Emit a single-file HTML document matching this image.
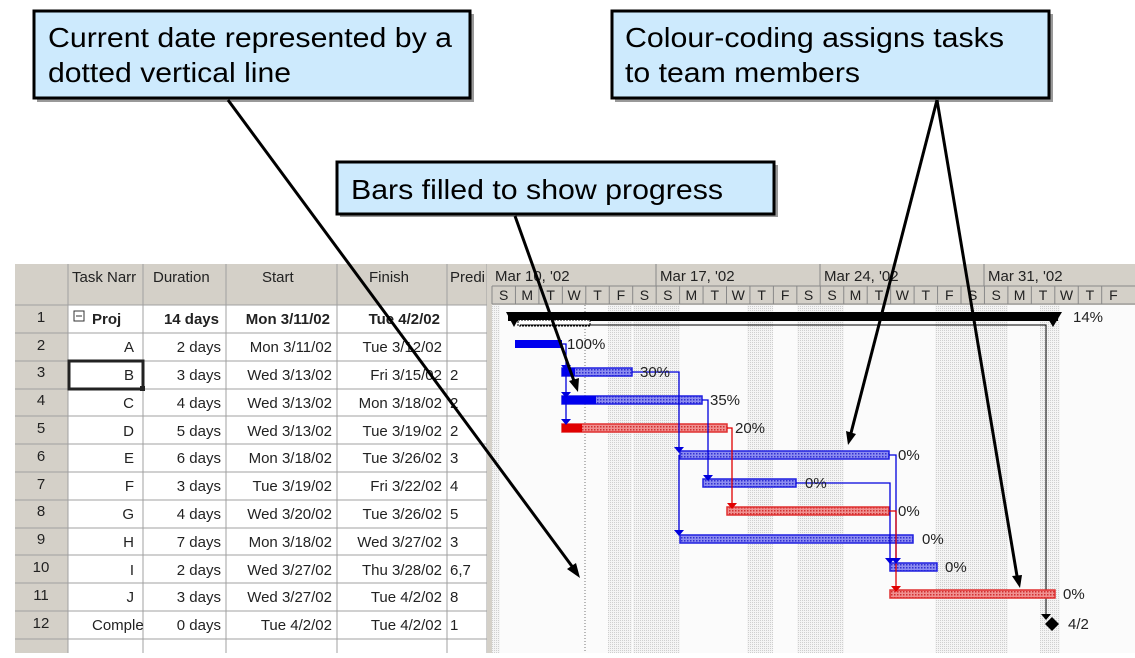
<!DOCTYPE html>
<html><head><meta charset="utf-8"><style>
body{margin:0;background:#fff;width:1135px;height:653px;overflow:hidden;font-family:"Liberation Sans",Arial,sans-serif}
</style></head><body>
<svg width="1135" height="653" viewBox="0 0 1135 653" xmlns="http://www.w3.org/2000/svg" font-family="Liberation Sans, Arial, sans-serif">
<defs>
<pattern id="hb" width="3" height="3" patternUnits="userSpaceOnUse"><rect width="3" height="3" fill="#8c8cf0"/><rect width="1.5" height="1.5" fill="#3030d0"/></pattern>
<pattern id="hr" width="3" height="3" patternUnits="userSpaceOnUse"><rect width="3" height="3" fill="#f09090"/><rect width="1.5" height="1.5" fill="#d03030"/></pattern>
<pattern id="dot" width="2" height="2" patternUnits="userSpaceOnUse"><rect width="2" height="2" fill="#f4f4f4"/><rect width="1" height="1" fill="#cfcfcf"/></pattern>
</defs>
<rect x="15" y="264" width="477" height="389" fill="#fff"/>
<rect x="15" y="264" width="477" height="41" fill="#d4d0c8"/>
<rect x="15" y="264" width="53" height="389" fill="#d4d0c8"/>
<g stroke="#a0a0a0" stroke-width="1">
<line x1="68" y1="264" x2="68" y2="653"/><line x1="143" y1="264" x2="143" y2="653"/><line x1="226" y1="264" x2="226" y2="653"/><line x1="337" y1="264" x2="337" y2="653"/><line x1="447" y1="264" x2="447" y2="653"/><line x1="487" y1="264" x2="487" y2="653"/>
<line x1="15" y1="305" x2="487" y2="305"/><line x1="15" y1="333" x2="487" y2="333"/><line x1="15" y1="361" x2="487" y2="361"/><line x1="15" y1="389" x2="487" y2="389"/><line x1="15" y1="416" x2="487" y2="416"/><line x1="15" y1="444" x2="487" y2="444"/><line x1="15" y1="472" x2="487" y2="472"/><line x1="15" y1="500" x2="487" y2="500"/><line x1="15" y1="528" x2="487" y2="528"/><line x1="15" y1="555" x2="487" y2="555"/><line x1="15" y1="583" x2="487" y2="583"/><line x1="15" y1="611" x2="487" y2="611"/><line x1="15" y1="639" x2="487" y2="639"/>
</g>
<rect x="69" y="361" width="74" height="28" fill="none" stroke="#222" stroke-width="3"/>
<rect x="140" y="386" width="5" height="5" fill="#222"/>
<g font-size="15" fill="#222">
<text x="72" y="282">Task Narr</text><text x="153" y="282">Duration</text><text x="262" y="282">Start</text><text x="369" y="282">Finish</text><text x="450" y="282">Predi</text>
<g text-anchor="middle"><text x="41" y="322">1</text><text x="41" y="350">2</text><text x="41" y="377">3</text><text x="41" y="405">4</text><text x="41" y="433">5</text><text x="41" y="461">6</text><text x="41" y="489">7</text><text x="41" y="516">8</text><text x="41" y="544">9</text><text x="41" y="572">10</text><text x="41" y="600">11</text><text x="41" y="628">12</text></g>
<g font-weight="bold"><text x="92" y="324">Proj</text><text x="219" y="324" text-anchor="end">14 days</text><text x="330" y="324" text-anchor="end">Mon 3/11/02</text><text x="440" y="324" text-anchor="end">Tue 4/2/02</text></g>
<rect x="74" y="311" width="10" height="10" fill="#fff" stroke="#333"/><line x1="76" y1="316" x2="82" y2="316" stroke="#333"/>
<g text-anchor="end">
<text x="134" y="352">A</text><text x="134" y="380">B</text><text x="134" y="408">C</text><text x="134" y="436">D</text><text x="134" y="463">E</text><text x="134" y="491">F</text><text x="134" y="519">G</text><text x="134" y="547">H</text><text x="134" y="575">I</text><text x="134" y="602">J</text>
<text x="221" y="352">2 days</text><text x="221" y="380">3 days</text><text x="221" y="408">4 days</text><text x="221" y="436">5 days</text><text x="221" y="463">6 days</text><text x="221" y="491">3 days</text><text x="221" y="519">4 days</text><text x="221" y="547">7 days</text><text x="221" y="575">2 days</text><text x="221" y="602">3 days</text><text x="221" y="630">0 days</text>
<text x="332" y="352">Mon 3/11/02</text><text x="332" y="380">Wed 3/13/02</text><text x="332" y="408">Wed 3/13/02</text><text x="332" y="436">Wed 3/13/02</text><text x="332" y="463">Mon 3/18/02</text><text x="332" y="491">Tue 3/19/02</text><text x="332" y="519">Wed 3/20/02</text><text x="332" y="547">Mon 3/18/02</text><text x="332" y="575">Wed 3/27/02</text><text x="332" y="602">Wed 3/27/02</text><text x="332" y="630">Tue 4/2/02</text>
<text x="442" y="352">Tue 3/12/02</text><text x="442" y="380">Fri 3/15/02</text><text x="442" y="408">Mon 3/18/02</text><text x="442" y="436">Tue 3/19/02</text><text x="442" y="463">Tue 3/26/02</text><text x="442" y="491">Fri 3/22/02</text><text x="442" y="519">Tue 3/26/02</text><text x="442" y="547">Wed 3/27/02</text><text x="442" y="575">Thu 3/28/02</text><text x="442" y="602">Tue 4/2/02</text><text x="442" y="630">Tue 4/2/02</text>
</g>
<text x="92" y="630">Comple</text>
<text x="450" y="380">2</text><text x="450" y="408">2</text><text x="450" y="436">2</text><text x="450" y="463">3</text><text x="450" y="491">4</text><text x="450" y="519">5</text><text x="450" y="547">3</text><text x="450" y="575">6,7</text><text x="450" y="602">8</text><text x="450" y="630">1</text>
</g>
<rect x="487" y="264" width="5" height="389" fill="#d4d0c8"/>
<rect x="492" y="305" width="643" height="348" fill="#fbfbfb"/>
<g fill="url(#dot)">
<rect x="492" y="305" width="8" height="348"/><rect x="608" y="305" width="24" height="348"/><rect x="633" y="305" width="47" height="348"/><rect x="747" y="305" width="26" height="348"/><rect x="797" y="305" width="47" height="348"/><rect x="935" y="305" width="26" height="348"/><rect x="961" y="305" width="47" height="348"/><rect x="1040" y="305" width="20" height="348"/>
</g>
<rect x="492" y="264" width="643" height="41" fill="#d4d0c8"/>
<g stroke="#888"><line x1="492" y1="286" x2="1135" y2="286"/><line x1="492" y1="304" x2="1135" y2="304"/>
<line x1="656" y1="264" x2="656" y2="286"/><line x1="820" y1="264" x2="820" y2="286"/><line x1="984" y1="264" x2="984" y2="286"/></g>
<g font-size="15" fill="#222"><text x="495" y="281">Mar 10, '02</text><text x="660" y="281">Mar 17, '02</text><text x="824" y="281">Mar 24, '02</text><text x="988" y="281">Mar 31, '02</text></g>
<g font-size="14" fill="#222" text-anchor="middle" id="days"></g>
<g stroke="#888" id="dl"></g>
<line x1="585" y1="305" x2="585" y2="653" stroke="#777" stroke-dasharray="1,2"/>
<rect x="508" y="312" width="550" height="9" fill="#000"/>
<polygon points="506,312 522,312 514,327" fill="#000"/><polygon points="1044,312 1062,312 1053,327" fill="#000"/>
<rect x="518" y="320" width="72" height="6" fill="#fff" stroke="#000" stroke-dasharray="2,1"/>
<polyline points="520,325 1046,325 1046,615" fill="none" stroke="#000"/>
<polygon points="1041,614 1051,614 1046,620" fill="#000"/>
<polygon points="1052,617 1059,624 1052,631 1045,624" fill="#000"/>
<g font-size="15" fill="#222"><text x="1073" y="322">14%</text><text x="1068" y="629">4/2</text></g>
<g stroke-width="1.5">
<rect x="515" y="340" width="47" height="8" fill="#0000ee"/>
<rect x="562" y="368" width="70" height="8" fill="url(#hb)" stroke="#2020e0"/><rect x="562" y="368" width="13" height="8" fill="#0000ee"/>
<rect x="562" y="396" width="140" height="8" fill="url(#hb)" stroke="#2020e0"/><rect x="562" y="396" width="34" height="8" fill="#0000ee"/>
<rect x="562" y="424" width="165" height="8" fill="url(#hr)" stroke="#e03030"/><rect x="562" y="424" width="20" height="8" fill="#e00000"/>
<rect x="680" y="451" width="209" height="8" fill="url(#hb)" stroke="#2020e0"/>
<rect x="703" y="479" width="93" height="8" fill="url(#hb)" stroke="#2020e0"/>
<rect x="727" y="507" width="162" height="8" fill="url(#hr)" stroke="#e03030"/>
<rect x="680" y="535" width="233" height="8" fill="url(#hb)" stroke="#2020e0"/>
<rect x="890" y="563" width="47" height="8" fill="url(#hb)" stroke="#2020e0"/>
<rect x="890" y="590" width="165" height="8" fill="url(#hr)" stroke="#e03030"/>
</g>
<g fill="none" stroke="#0000dd" stroke-width="1.3">
<polyline points="562,344 566,344 566,365"/><polyline points="566,372 566,392"/><polyline points="566,400 566,420"/>
<polyline points="632,372 679,372 679,448"/><polyline points="679,455 679,532"/>
<polyline points="702,400 708,400 708,476"/>
<polyline points="889,455 896,455 896,560"/><polyline points="796,483 890,483 890,560"/>
</g>
<g fill="none" stroke="#e00000" stroke-width="1.3"><polyline points="727,428 732,428 732,504"/><polyline points="889,511 896,511 896,587"/></g>
<g fill="#0000dd"><polygon points="561,365 571,365 566,371"/><polygon points="561,392 571,392 566,398"/><polygon points="561,419 571,419 566,425"/><polygon points="674,447 684,447 679,453"/><polygon points="674,530 684,530 679,536"/><polygon points="703,475 713,475 708,481"/><polygon points="885,558 895,558 890,564"/><polygon points="891,558 901,558 896,564"/></g>
<g fill="#e00000"><polygon points="727,503 737,503 732,509"/><polygon points="891,586 901,586 896,592"/></g>
<g font-size="15" fill="#222"><text x="567" y="349">100%</text><text x="640" y="377">30%</text><text x="710" y="405">35%</text><text x="735" y="433">20%</text><text x="898" y="460">0%</text><text x="805" y="488">0%</text><text x="898" y="516">0%</text><text x="922" y="544">0%</text><text x="945" y="572">0%</text><text x="1063" y="599">0%</text></g>
<g>
<rect x="37" y="14" width="437" height="88" fill="#999"/>
<rect x="34" y="11" width="436" height="87" fill="#cdeafd" stroke="#000" stroke-width="3"/>
<rect x="615" y="14" width="438" height="88" fill="#999"/>
<rect x="612" y="11" width="437" height="87" fill="#cdeafd" stroke="#000" stroke-width="3"/>
<rect x="340" y="165" width="438" height="52" fill="#999"/>
<rect x="337" y="162" width="437" height="52" fill="#cdeafd" stroke="#000" stroke-width="3"/>
</g>
<g font-size="28" fill="#000">
<text x="48" y="47" textLength="404" lengthAdjust="spacingAndGlyphs">Current date represented by a</text><text x="48" y="82" textLength="243" lengthAdjust="spacingAndGlyphs">dotted vertical line</text>
<text x="625" y="47" textLength="379" lengthAdjust="spacingAndGlyphs">Colour-coding assigns tasks</text><text x="625" y="82" textLength="235" lengthAdjust="spacingAndGlyphs">to team members</text>
<text x="351" y="199" textLength="372" lengthAdjust="spacingAndGlyphs">Bars filled to show progress</text>
</g>
<g stroke="#000" stroke-width="3" fill="#000">
<line x1="228" y1="100" x2="574" y2="569"/><polygon points="580,578 567,569 576,563" stroke="none"/>
<line x1="515" y1="216" x2="574" y2="381"/><polygon points="578,392 569,381 579,378" stroke="none"/>
<line x1="937" y1="100" x2="851" y2="433"/><polygon points="848,445 846,431 856,434" stroke="none"/>
<line x1="937" y1="100" x2="1017" y2="576"/><polygon points="1020,588 1012,576 1022,575" stroke="none"/>
</g>
<script>
var d="SMTWTFS",g=document.getElementById("days"),l=document.getElementById("dl"),ns="http://www.w3.org/2000/svg";
for(var i=0;i<27;i++){var x=492+i*23.45;var t=document.createElementNS(ns,"text");t.setAttribute("x",x+11.7);t.setAttribute("y",300);t.textContent=d[i%7];g.appendChild(t);
var ln=document.createElementNS(ns,"line");ln.setAttribute("x1",x);ln.setAttribute("x2",x);ln.setAttribute("y1",286);ln.setAttribute("y2",304);l.appendChild(ln);}
</script>
</svg>
</body></html>
